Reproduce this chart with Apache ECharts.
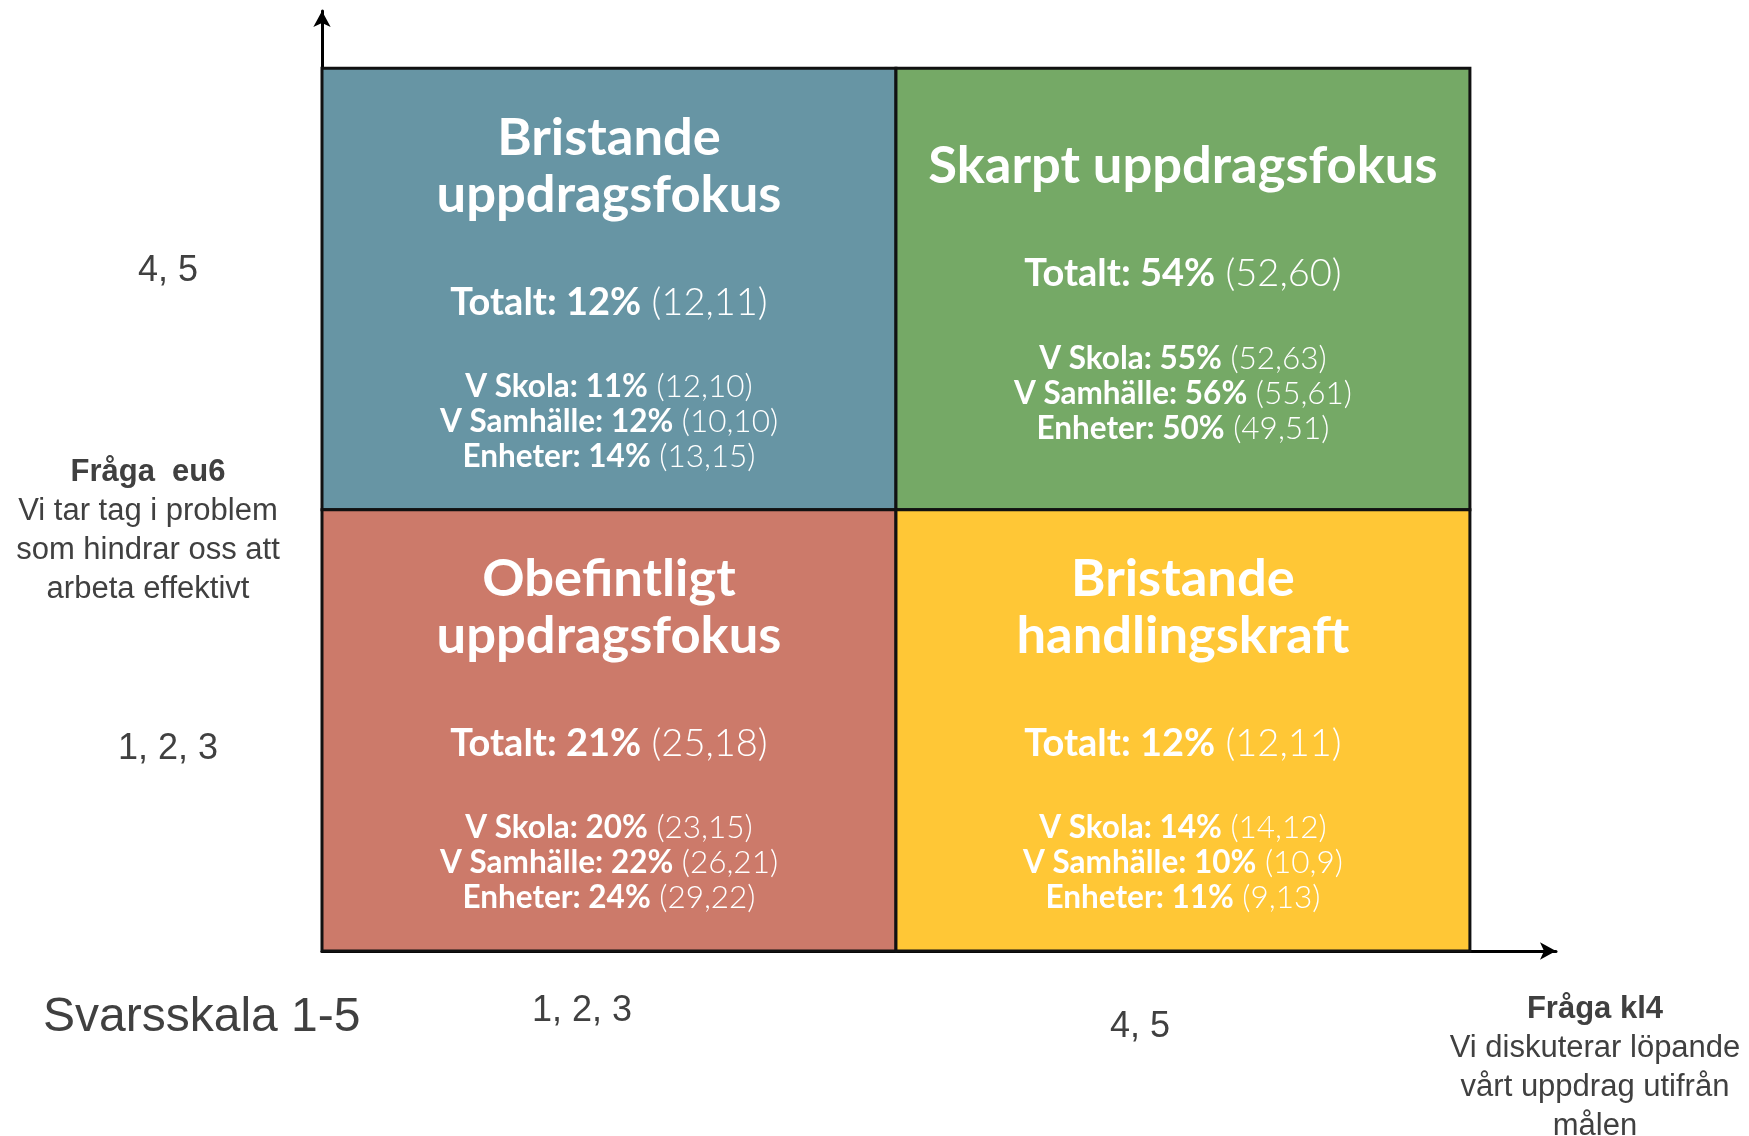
<!DOCTYPE html>
<html>
<head>
<meta charset="utf-8">
<script src="https://cdn.jsdelivr.net/npm/echarts@6/dist/echarts.min.js"></script>
<style>
  html, body { margin: 0; padding: 0; background: #fff; }
  #chart { width: 1749px; height: 1136px; }
</style>
</head>
<body>
<div id="chart"></div>
<script>
// tick labels on both axes (answer scale groups)
const xTickLabels = ['1, 2, 3', '4, 5']
const yTickLabels = ['1, 2, 3', '4, 5']

// quadrants: column / row on the two axes
const quadrantTitles = ['Bristande\nuppdragsfokus', 'Skarpt uppdragsfokus', 'Obefintligt\nuppdragsfokus', 'Bristande\nhandlingskraft']
const quadrantCol = [0, 1, 0, 1]
const quadrantRow = [1, 1, 0, 0]
const quadrantColors = ['#6795a4', '#75a966', '#cc7a6a', '#ffc736']

const totalPct = [12, 54, 21, 12]
const totalRange = ['12,11', '52,60', '25,18', '12,11']

const groupNames = ['V Skola', 'V Samhälle', 'Enheter']
const skolaPct = [11, 55, 20, 14]
const skolaRange = ['12,10', '52,63', '23,15', '14,12']
const samhallePct = [12, 56, 22, 10]
const samhalleRange = ['10,10', '55,61', '26,21', '10,9']
const enheterPct = [14, 50, 24, 11]
const enheterRange = ['13,15', '49,51', '29,22', '9,13']

const groupPct = [skolaPct, samhallePct, enheterPct]
const groupRange = [skolaRange, samhalleRange, enheterRange]

const quadFont = 'Lato'
const labelFont = '"Liberation Sans", Arial, sans-serif'

const rich = {
  t: { fontFamily: quadFont, fontWeight: 'bold', fontSize: 52.5, lineHeight: 57, fill: '#fff' },
  g1: { fontSize: 1, lineHeight: 59 },
  tb: { fontFamily: quadFont, fontWeight: 'bold', fontSize: 38, lineHeight: 40, fill: '#fff' },
  tl: { fontFamily: quadFont, fontWeight: 300, fontSize: 38, lineHeight: 40, fill: '#fff' },
  g2: { fontSize: 1, lineHeight: 47 },
  sb: { fontFamily: quadFont, fontWeight: 'bold', fontSize: 31.5, lineHeight: 35, fill: '#fff' },
  sl: { fontFamily: quadFont, fontWeight: 300, fontSize: 31.5, lineHeight: 35, fill: '#fff' }
}

const quadText = i => {
  const lines = quadrantTitles[i].split('\n').map(s => `{t|${s}}`)
  lines.push('{g1| }')
  lines.push(`{tb|Totalt: ${totalPct[i]}%}{tl| (${totalRange[i]})}`)
  lines.push('{g2| }')
  groupNames.forEach((g, k) => {
    lines.push(`{sb|${g}: ${groupPct[k][i]}%}{sl| (${groupRange[k][i]})}`)
  })
  return lines.join('\n')
}

const chart = echarts.init(document.getElementById('chart'))

chart.setOption({
  animation: false,
  grid: { left: 322, right: 193, top: 11, bottom: 185 },
  xAxis: {
    type: 'value',
    min: 0,
    max: 2.15,
    interval: 0.5,
    splitLine: { show: false },
    axisTick: { show: false },
    axisLine: {
      lineStyle: { color: '#000', width: 3 },
      symbol: ['none', 'arrow'],
      symbolSize: [13, 16]
    },
    axisLabel: {
      margin: 42,
      showMaxLabel: false,
      formatter: v => {
        if (v === 0.5) return `{a|${xTickLabels[0]}}`
        if (v === 1.5) return `{b|${xTickLabels[1]}}`
        return ''
      },
      rich: {
        a: { fontFamily: labelFont, fontSize: 36, color: '#404040', padding: [0, 54, 0, 0] },
        b: { fontFamily: labelFont, fontSize: 36, color: '#404040', padding: [16, 86, 0, 0] }
      }
    }
  },
  yAxis: {
    type: 'value',
    min: 0,
    max: 2.13,
    interval: 0.5,
    splitLine: { show: false },
    axisTick: { show: false },
    axisLine: {
      lineStyle: { color: '#000', width: 3 },
      symbol: ['none', 'arrow'],
      symbolSize: [13, 16]
    },
    axisLabel: {
      margin: 154,
      align: 'center',
      showMaxLabel: false,
      formatter: v => {
        if (v === 0.5) return `{a|${yTickLabels[0]}}`
        if (v === 1.5) return `{b|${yTickLabels[1]}}`
        return ''
      },
      rich: {
        a: { fontFamily: labelFont, fontSize: 36, color: '#404040', padding: [37, 0, 0, 0] },
        b: { fontFamily: labelFont, fontSize: 36, color: '#404040', padding: [0, 0, 35, 0] }
      }
    }
  },
  graphic: [
    {
      type: 'text',
      x: 148,
      y: 453,
      style: {
        text: '{b|Fråga  eu6}\n{n|Vi tar tag i problem}\n{n|som hindrar oss att}\n{n|arbeta effektivt}',
        align: 'center',
        verticalAlign: 'top',
        rich: {
          b: { fontFamily: labelFont, fontWeight: 'bold', fontSize: 31, lineHeight: 39, fill: '#404040' },
          n: { fontFamily: labelFont, fontSize: 31, lineHeight: 39, fill: '#404040' }
        }
      }
    },
    {
      type: 'text',
      x: 1595,
      y: 990,
      style: {
        text: '{b|Fråga kl4}\n{n|Vi diskuterar löpande}\n{n|vårt uppdrag utifrån}\n{n|målen}',
        align: 'center',
        verticalAlign: 'top',
        rich: {
          b: { fontFamily: labelFont, fontWeight: 'bold', fontSize: 31, lineHeight: 39, fill: '#404040' },
          n: { fontFamily: labelFont, fontSize: 31, lineHeight: 39, fill: '#404040' }
        }
      }
    },
    {
      type: 'text',
      x: 43,
      y: 1018,
      style: {
        text: 'Svarsskala 1-5',
        fontFamily: labelFont,
        fontSize: 48,
        fill: '#404040',
        verticalAlign: 'middle'
      }
    }
  ],
  series: [
    {
      type: 'custom',
      data: quadrantTitles.map((t, i) => [quadrantCol[i], quadrantRow[i], i]),
      encode: { x: 0, y: 1 },
      renderItem: (params, api) => {
        const c = api.value(0)
        const r = api.value(1)
        const i = api.value(2)
        const p0 = api.coord([c, r + 1])
        const s = api.size([1, 1])
        return {
          type: 'group',
          children: [
            {
              type: 'rect',
              shape: { x: p0[0], y: p0[1], width: s[0], height: s[1] },
              style: { fill: quadrantColors[i], stroke: '#111', lineWidth: 3 }
            },
            {
              type: 'text',
              x: p0[0] + s[0] / 2,
              y: p0[1] + s[1] / 2 + 3,
              style: {
                text: quadText(i),
                align: 'center',
                verticalAlign: 'middle',
                fill: '#fff',
                rich
              }
            }
          ]
        }
      }
    }
  ]
})
</script>
</body>
</html>
